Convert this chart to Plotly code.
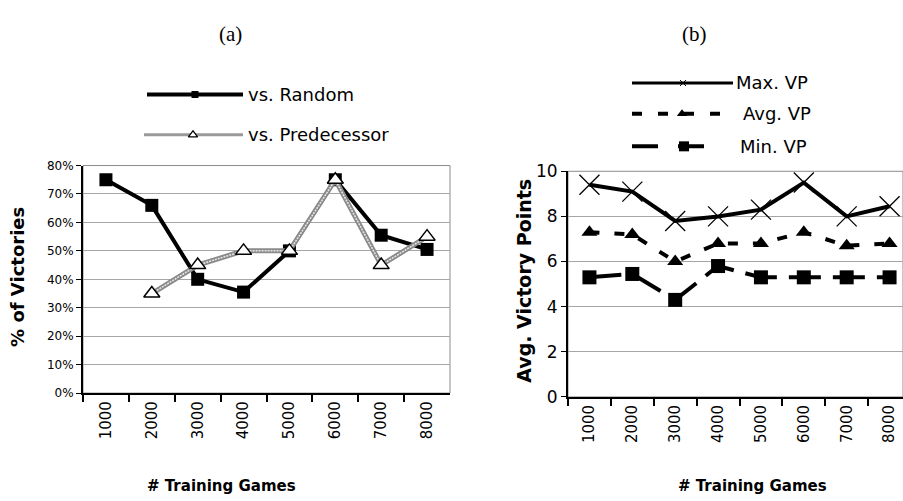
import plotly.graph_objects as go

# ---- data -------------------------------------------------------------
games = ["1000", "2000", "3000", "4000", "5000", "6000", "7000", "8000"]

# (a) share of games won, in percent
vs_random = [75, 66, 40, 35.5, 50, 75, 55.5, 50.5]
vs_predecessor = [None, 35, 45, 50, 50, 75, 45, 55]

# (b) victory points per game
max_vp = [9.4, 9.1, 7.8, 8.0, 8.3, 9.5, 8.0, 8.45]
avg_vp = [7.3, 7.2, 6.0, 6.8, 6.8, 7.3, 6.7, 6.8]
min_vp = [5.3, 5.45, 4.3, 5.8, 5.3, 5.3, 5.3, 5.3]

pct_ticks = list(range(0, 81, 10))
pct_labels = ["%d%%" % v for v in pct_ticks]
vp_ticks = [0, 2, 4, 6, 8, 10]

W, H = 903, 501


def px(x):
    return x / W


def py(y):
    return 1 - y / H


GRID = "#a6a6a6"

fig = go.Figure()

# ---- panel (a) ----------------------------------------------------------
fig.add_trace(go.Scatter(
    x=games, y=vs_random, mode="lines+markers", xaxis="x", yaxis="y",
    line=dict(color="black", width=4),
    marker=dict(symbol="square", size=13, color="black"),
    showlegend=False, cliponaxis=False))
# double-stroke grey line for the predecessor series
fig.add_trace(go.Scatter(
    x=games, y=vs_predecessor, mode="lines", xaxis="x", yaxis="y",
    line=dict(color="#8a8a8a", width=5), showlegend=False))
fig.add_trace(go.Scatter(
    x=games, y=vs_predecessor, mode="lines+markers", xaxis="x", yaxis="y",
    line=dict(color="#e8e8e8", width=1.5, dash="2px,1px"),
    marker=dict(symbol="triangle-up", size=14, color="white",
                line=dict(color="black", width=1.5)),
    showlegend=False, cliponaxis=False))

# ---- panel (b) ----------------------------------------------------------
fig.add_trace(go.Scatter(
    x=games, y=max_vp, mode="lines+markers", xaxis="x2", yaxis="y2",
    line=dict(color="black", width=4),
    marker=dict(symbol="x-thin", size=20, color="black",
                line=dict(color="black", width=1.3)),
    showlegend=False, cliponaxis=False))
fig.add_trace(go.Scatter(
    x=games, y=avg_vp, mode="lines+markers", xaxis="x2", yaxis="y2",
    line=dict(color="black", width=4, dash="10px,15px"),
    marker=dict(symbol="triangle-up", size=14, color="black"),
    showlegend=False, cliponaxis=False))
fig.add_trace(go.Scatter(
    x=games, y=min_vp, mode="lines+markers", xaxis="x2", yaxis="y2",
    line=dict(color="black", width=4, dash="32px,12px"),
    marker=dict(symbol="square", size=14, color="black"),
    showlegend=False, cliponaxis=False))

# ---- hand-drawn legends on a full-page pixel overlay -----------------------
def legend_sample(x0, x1, y, mx, line, marker):
    fig.add_trace(go.Scatter(
        x=[x0, x1], y=[y, y], mode="lines", xaxis="x3", yaxis="y3",
        line=line, showlegend=False, hoverinfo="skip"))
    fig.add_trace(go.Scatter(
        x=[mx], y=[y], mode="markers", xaxis="x3", yaxis="y3",
        marker=marker, showlegend=False, hoverinfo="skip"))


legend_sample(147, 243, 88, 195, dict(color="black", width=4),
              dict(symbol="square", size=7, color="black"))
legend_sample(144, 243, 130, 193, dict(color="#9a9a9a", width=3),
              dict(symbol="triangle-up", size=8, color="white",
                   line=dict(color="black", width=1.2)))
legend_sample(632, 733, 76, 683, dict(color="black", width=3),
              dict(symbol="x-thin", size=6, line=dict(color="black", width=1)))
legend_sample(632, 733, 108, 682, dict(color="black", width=4, dash="10px,16px"),
              dict(symbol="triangle-up", size=9, color="black"))
legend_sample(632, 722, 142, 684, dict(color="black", width=4, dash="26px,20px"),
              dict(symbol="square", size=10, color="black"))

legend_labels = [
    ("vs. Random", 246, 88),
    ("vs. Predecessor", 246, 130),
    ("Max. VP", 734, 76),
    ("Avg. VP", 741, 108),
    ("Min. VP", 738, 142),
]

annotations = []
for text, x, y in legend_labels:
    annotations.append(dict(
        text=text, x=px(x), y=py(y), xref="paper", yref="paper",
        xanchor="left", yanchor="middle", showarrow=False,
        font=dict(family="DejaVu Sans", size=18, color="black")))

# panel captions
for text, x in [("(a)", 230), ("(b)", 694)]:
    annotations.append(dict(
        text=text, x=px(x), y=py(25), xref="paper", yref="paper",
        xanchor="center", yanchor="middle", showarrow=False,
        font=dict(family="Liberation Serif", size=21, color="black")))

# axis titles
for text, x in [("# Training Games", 221), ("# Training Games", 752)]:
    annotations.append(dict(
        text="<b>%s</b>" % text, x=px(x), y=py(496), xref="paper", yref="paper",
        xanchor="center", yanchor="middle", showarrow=False,
        font=dict(family="DejaVu Sans", size=15, color="black")))
annotations.append(dict(
    text="<b>% of Victories</b>", x=px(18), y=py(278), xref="paper",
    yref="paper", xanchor="center", yanchor="middle", textangle=-90,
    showarrow=False, font=dict(family="DejaVu Sans", size=18, color="black")))
annotations.append(dict(
    text="<b>Avg. Victory Points</b>", x=px(524), y=py(282), xref="paper",
    yref="paper", xanchor="center", yanchor="middle", textangle=-90,
    showarrow=False, font=dict(family="DejaVu Sans", size=19, color="black")))

# thin grey frame on the top / right of each plot area
shapes = []
for xr, yr in [("x domain", "y domain"), ("x2 domain", "y2 domain")]:
    shapes.append(dict(type="rect", xref=xr, yref=yr, x0=0, x1=1, y0=0, y1=1,
                       line=dict(color="#8c8c8c", width=1), layer="below"))

xcommon = dict(
    type="category", tickson="boundaries", ticks="outside", ticklen=7,
    tickwidth=2, tickcolor="black", showline=True, linecolor="black",
    linewidth=2, showgrid=False, tickangle=-90, tickfont=dict(
        family="DejaVu Sans", size=15, color="black"),
    fixedrange=True, zeroline=False)

fig.update_layout(
    width=W, height=H,
    margin=dict(l=0, r=0, t=0, b=0),
    paper_bgcolor="white", plot_bgcolor="rgba(0,0,0,0)",
    showlegend=False,
    xaxis=dict(domain=[px(83), px(450)], anchor="y", range=[-0.5, 7.5],
               **xcommon),
    yaxis=dict(domain=[py(399), py(162)], anchor="x", range=[0, 80],
               tickvals=pct_ticks, ticktext=pct_labels, ticks="outside",
               ticklen=5, tickcolor="black", showline=True,
               linecolor="black", linewidth=2, gridcolor=GRID, gridwidth=1,
               zeroline=False, fixedrange=True,
               tickfont=dict(family="DejaVu Sans", size=12, color="black")),
    xaxis2=dict(domain=[px(568), 1.0], anchor="y2",
                range=[-0.5, 7.5 - (911 - 903) / ((911 - 568) / 8)],
                **xcommon),
    yaxis2=dict(domain=[py(403), py(168)], anchor="x2", range=[0, 10],
                tickvals=vp_ticks, ticks="outside", ticklen=5,
                tickcolor="black", showline=True, linecolor="black",
                linewidth=2, gridcolor=GRID, gridwidth=1, zeroline=False,
                tickfont=dict(family="DejaVu Sans", size=17, color="black"),
                fixedrange=True),
    xaxis3=dict(domain=[0, 1], anchor="y3", range=[0, W], visible=False,
                fixedrange=True),
    yaxis3=dict(domain=[0, 1], anchor="x3", range=[H, 0], visible=False,
                fixedrange=True),
    annotations=annotations,
    shapes=shapes,
)

fig.write_html("out.html")
